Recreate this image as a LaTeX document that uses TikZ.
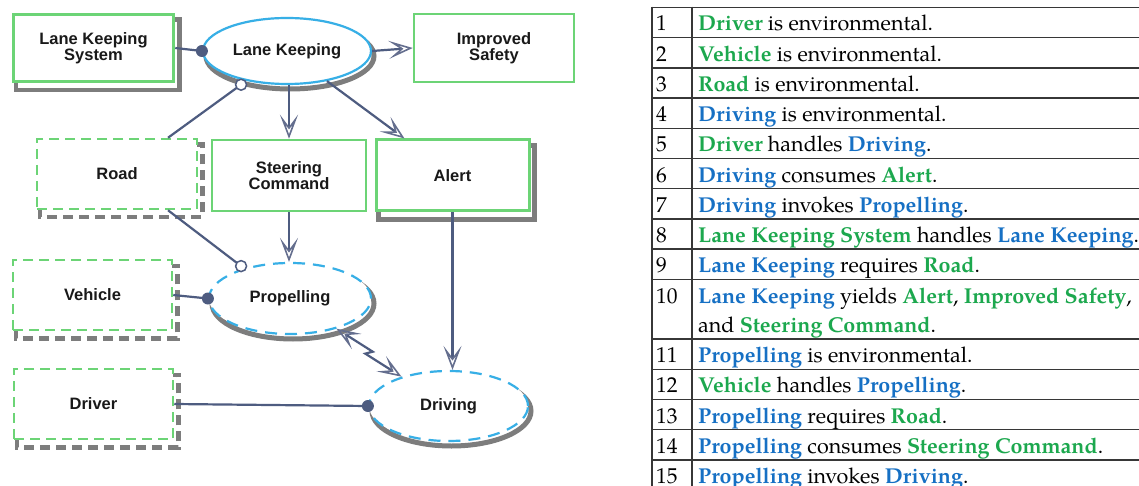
\documentclass[tikz,border=0pt]{standalone}
\usepackage{fontspec}
\usetikzlibrary{arrows.meta,calc,shapes.geometric,backgrounds}
\newfontfamily\labelfont{Liberation Sans}
\newfontfamily\tablefont{texgyrepagella}[Extension=.otf,UprightFont=*-regular,BoldFont=*-bold]

\definecolor{boxgreen}{RGB}{108,212,118}
\definecolor{ovalblue}{RGB}{55,175,230}
\definecolor{shade}{RGB}{125,125,125}
\definecolor{linkc}{RGB}{78,92,128}
\definecolor{tipc}{RGB}{100,110,142}
\definecolor{thinggreen}{RGB}{28,168,78}
\definecolor{procblue}{RGB}{22,112,196}
\definecolor{rulec}{RGB}{55,55,55}
\definecolor{ink}{RGB}{25,25,25}

\newcommand\thing[1]{\textcolor{thinggreen}{\bfseries #1}}
\newcommand\proc[1]{\textcolor{procblue}{\bfseries #1}}

\tikzset{
  lbl/.style={font=\labelfont\bfseries\fontsize{16.5}{16}\selectfont, text=ink, align=center},
  objbox/.style={lbl, rectangle, draw=boxgreen, fill=white, line width=2.5pt, inner sep=0pt},
  envbox/.style={objbox, dash pattern=on 10pt off 6pt},
  oval/.style={lbl, ellipse, draw=ovalblue, fill=white, line width=2.2pt, inner sep=0pt},
  envoval/.style={oval, dash pattern=on 12pt off 8pt},
  boxshadow/.style={draw=shade, line width=4.5pt},
  envshadow/.style={boxshadow, dash pattern=on 10pt off 6pt},
  ovalshadow/.style={draw=shade, line width=5pt},
  link/.style={draw=linkc, line width=2.2pt},
  opentip/.tip={Stealth[open, length=24pt, width=18pt, inset=12pt, line width=1.6pt, color=tipc]},
  yields/.style={link, -opentip},
  agentdot/.style={fill=linkc},
  instrdot/.style={fill=white, draw=linkc, line width=1.5pt},
  row/.style={font=\tablefont\fontsize{21.5}{29}\selectfont, text=black, inner sep=0pt, anchor=base west},
  rule/.style={draw=rulec, line width=1.4pt}
}

\begin{document}
\begin{tikzpicture}[x=1pt,y=-1pt]
\useasboundingbox (0,0) rectangle (1139,486);
\clip (0,0) rectangle (1139,486);

% ---- things and processes ----
\node[objbox, line width=3.5pt, minimum width=160pt, minimum height=67pt] (lks) at (93.5,48) {Lane Keeping\\System};
\node[oval, minimum width=168pt, minimum height=66pt] (lk) at (287,51) {Lane Keeping};
\node[objbox, minimum width=160pt, minimum height=68pt] (is) at (494,48) {Improved\\Safety};
\node[envbox, minimum width=160pt, minimum height=70pt] (rd) at (117,174) {Road};
\node[objbox, minimum width=154pt, minimum height=71pt] (sc) at (289,175.5) {Steering\\Command};
\node[objbox, line width=3pt, minimum width=153pt, minimum height=71pt] (al) at (452.5,175.5) {Alert};
\node[envbox, minimum width=159pt, minimum height=70pt] (vh) at (92.5,295) {Vehicle};
\node[envoval, minimum width=162pt, minimum height=71pt] (pr) at (290,298.5) {Propelling};
\node[envbox, minimum width=159pt, minimum height=70pt] (dv) at (93.5,404) {Driver};
\node[envoval, minimum width=159pt, minimum height=70pt] (dr) at (448.5,406) {Driving};

% ---- drop shadows behind the shapes ----
\begin{scope}[on background layer]
  \fill[white] (0,0) rectangle (1139,486);
  \draw[boxshadow] ($(lks.north west)+(4,7)$) rectangle ($(lks.south east)+(4,7)$);
  \draw[boxshadow] ($(al.north west)+(4,7)$) rectangle ($(al.south east)+(4,7)$);
  \draw[envshadow] ($(rd.north west)+(4,7)$) rectangle ($(rd.south east)+(4,7)$);
  \draw[envshadow] ($(vh.north west)+(4,7)$) rectangle ($(vh.south east)+(4,7)$);
  \draw[envshadow] ($(dv.north west)+(4,7)$) rectangle ($(dv.south east)+(4,7)$);
  \draw[ovalshadow] ($(lk.center)+(3,5)$) ellipse [x radius=84, y radius=33];
  \draw[ovalshadow] ($(pr.center)+(3,5)$) ellipse [x radius=81, y radius=35.5];
  \draw[ovalshadow] ($(dr.center)+(3,5)$) ellipse [x radius=79.5, y radius=35];
\end{scope}

% ---- links ----
\coordinate (lkreq) at ($(lk.212)+(0,5)$);
\coordinate (prreq) at ($(pr.149)+(0,-3)$);
\coordinate (altop) at ($(al.north west)+(30,0)$);

\draw[link] (lks.east) -- (lk.west);
\fill[agentdot] (lk.west) circle (6pt);

\draw[yields] (lk.east) -- (is.west);
\draw[yields] (sc.north |- lk.south) -- (sc.north);
\draw[yields] (lk.-37) -- (altop);

\draw[link] ($(rd.north)+(51,0)$) -- (lkreq);
\draw[instrdot] (lkreq) circle (5.5pt);

\draw[yields] (sc.south) -- (sc.south |- pr.north);

\draw[link] ($(rd.south)+(51,0)$) -- (prreq);
\draw[instrdot] (prreq) circle (5.5pt);

\draw[link] (vh.east) -- (pr.west);
\fill[agentdot] (pr.west) circle (6pt);

\draw[yields] (al.south) -- (al.south |- dr.north);

\draw[link] (dv.east) -- (dr.west);
\fill[agentdot] (dr.west) circle (6pt);

\coordinate (pa) at (pr.-33);
\coordinate (pb) at (dr.148);
\draw[link, opentip-opentip]
  (pa) -- ($(pa)!0.53!(pb)!3pt!90:(pb)$) -- ($(pa)!0.47!(pb)!3pt!-90:(pb)$) -- (pb);

% ---- statement table ----
\foreach \y in {7.3,37.5,67.9,98.1,128.3,158.5,188.7,218.9,249.1,279.5,339,369.2,399.4,429.6,459.8}
  \draw[rule] (652,\y) -- (1139,\y);
\draw[rule] (652,6.6) -- (652,490);
\draw[rule] (692,6.6) -- (692,490);

\node[row] (n1) at (656,31) {1};
\node[row] (t1) at (698,31) {\thing{Driver} is environmental.};
\node[row] (n2) at (656,61.2) {2};
\node[row] (t2) at (698,61.2) {\thing{Vehicle} is environmental.};
\node[row] (n3) at (656,91.6) {3};
\node[row] (t3) at (698,91.6) {\thing{Road} is environmental.};
\node[row] (n4) at (656,121.8) {4};
\node[row] (t4) at (698,121.8) {\proc{Driving} is environmental.};
\node[row] (n5) at (656,152) {5};
\node[row] (t5) at (698,152) {\thing{Driver} handles \proc{Driving}.};
\node[row] (n6) at (656,182.2) {6};
\node[row] (t6) at (698,182.2) {\proc{Driving} consumes \thing{Alert}.};
\node[row] (n7) at (656,212.4) {7};
\node[row] (t7) at (698,212.4) {\proc{Driving} invokes \proc{Propelling}.};
\node[row] (n8) at (656,242.6) {8};
\node[row] (t8) at (698,242.6) {\thing{Lane Keeping System} handles \proc{Lane Keeping}.};
\node[row] (n9) at (656,272.8) {9};
\node[row] (t9) at (698,272.8) {\proc{Lane Keeping} requires \thing{Road}.};
\node[row] (n10) at (656,303.2) {10};
\node[row] (t10) at (698,303.2) {\proc{Lane Keeping} yields \thing{Alert}, \thing{Improved Safety},};
\node[row] (t10b) at (698,332.2) {and \thing{Steering Command}.};
\node[row] (n11) at (656,362.7) {11};
\node[row] (t11) at (698,362.7) {\proc{Propelling} is environmental.};
\node[row] (n12) at (656,392.9) {12};
\node[row] (t12) at (698,392.9) {\thing{Vehicle} handles \proc{Propelling}.};
\node[row] (n13) at (656,423.1) {13};
\node[row] (t13) at (698,423.1) {\proc{Propelling} requires \thing{Road}.};
\node[row] (n14) at (656,453.3) {14};
\node[row] (t14) at (698,453.3) {\proc{Propelling} consumes \thing{Steering Command}.};
\node[row] (n15) at (656,483.5) {15};
\node[row] (t15) at (698,483.5) {\proc{Propelling} invokes \proc{Driving}.};
\end{tikzpicture}
\end{document}
